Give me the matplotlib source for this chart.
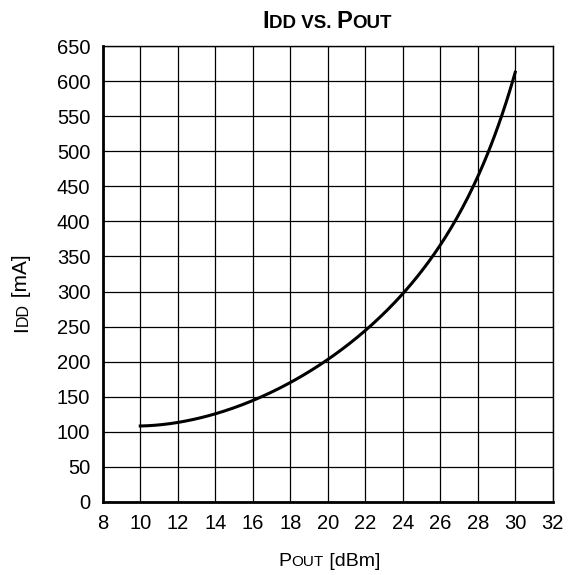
import numpy as np
import matplotlib
matplotlib.use("Agg")
import matplotlib.pyplot as plt
from matplotlib.transforms import offset_copy

plt.rcParams['font.family'] = ['Liberation Sans', 'DejaVu Sans']

# Dados
pout = [10, 12, 14, 16, 18, 20, 22, 24, 26, 28, 30]
idd = [108, 114, 126, 144, 169, 203, 247, 298, 362, 465, 613]

x_ticks = list(range(8, 33, 2))
y_ticks = list(range(0, 651, 50))


def small_caps(fig, pieces, x, y, rotation=0, weight='normal'):
    # texto em "versalete": pedaços com tamanhos diferentes, centrados em (x, y)
    r = fig.canvas.get_renderer()
    widths = []
    for s, size in pieces:
        t = fig.text(0, 0, s, fontsize=size, weight=weight)
        widths.append(t.get_window_extent(r).width)
        t.remove()
    off = -sum(widths) / 2
    for (s, size), w in zip(pieces, widths):
        pts = off * 72 / fig.dpi
        if rotation == 0:
            tr = offset_copy(fig.transFigure, fig=fig, x=pts, y=0, units='points')
        else:
            tr = offset_copy(fig.transFigure, fig=fig, x=0, y=pts, units='points')
        fig.text(x, y, s, fontsize=size, weight=weight, transform=tr,
                 ha='left', va='baseline', rotation=rotation, rotation_mode='anchor')
        off += w


fig = plt.figure(figsize=(5.71, 5.75), dpi=100)
ax = fig.add_axes([0.180, 0.127, 0.788, 0.793])

# curva suave a partir dos pontos lidos
xs = np.linspace(min(pout), max(pout), 200)
coef = np.polyfit(pout, np.log(idd), 4)
ax.plot(xs, np.exp(np.polyval(coef, xs)), color='black', lw=2.2)

ax.set_xlim(8, 32)
ax.set_ylim(0, 650)
ax.set_xticks(x_ticks)
ax.set_yticks(y_ticks)
ax.grid(True, color='black', lw=0.9)
ax.tick_params(length=0, labelsize=14.5)
ax.tick_params(axis='y', pad=9)
ax.tick_params(axis='x', pad=9)
for side in ['left', 'bottom']:
    ax.spines[side].set_linewidth(2)
for side in ['top', 'right']:
    ax.spines[side].set_linewidth(1)

fig.canvas.draw()
small_caps(fig, [('I', 17), ('DD VS. ', 13.5), ('P', 17), ('OUT', 13.5)], 0.5727, 0.951, weight='bold')
small_caps(fig, [('P', 14), ('OUT', 11), (' [dBm]', 14)], 0.577, 0.016)
small_caps(fig, [('I', 15), ('DD', 11.5), (' [mA]', 15)], 0.048, 0.49, rotation=90)

fig.savefig('out.png', dpi=100)
